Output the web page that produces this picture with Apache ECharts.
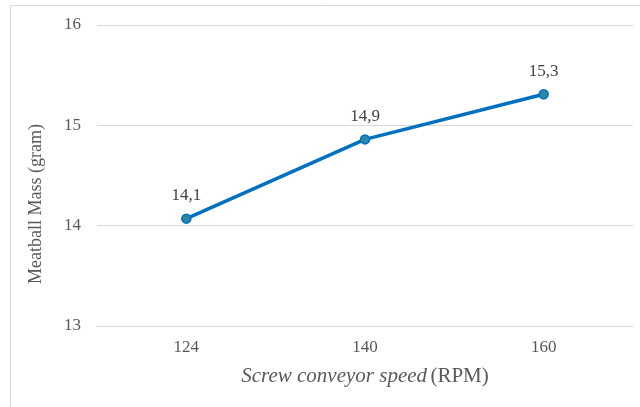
<!DOCTYPE html>
<html><head><meta charset="utf-8">
<script src="https://cdn.jsdelivr.net/npm/echarts@6/dist/echarts.min.js"></script>
<style>html,body{margin:0;padding:0;background:#fff}#c{width:640px;height:407px}</style>
</head><body><div id="c"></div>
<script>
const categories = ['124', '140', '160'];
const massValues = [14.07, 14.86, 15.31];
const yTicks = [13, 14, 15, 16];
const yTitle = 'Meatball Mass (gram)';

const chart = echarts.init(document.getElementById('c'));
const font = '"Liberation Serif", "Times New Roman", serif';
chart.setOption({
  animation: false,
  backgroundColor: '#fff',
  graphic: [{
    type: 'rect', shape: {x: 10.5, y: 5.5, width: 700, height: 500},
    style: {fill: 'none', stroke: '#d9d9d9', lineWidth: 1}, silent: true
  }, {
    type: 'text', x: 36, y: 204, rotation: Math.PI / 2,
    style: {text: yTitle, align: 'center', verticalAlign: 'middle',
      fill: '#595959', font: '18px ' + font}
  }],
  grid: {left: 97, right: 7, top: 25, bottom: 81},
  xAxis: {
    type: 'category', data: categories, boundaryGap: true,
    axisLine: {show: true, lineStyle: {color: '#d9d9d9', width: 1}},
    axisTick: {show: false},
    axisLabel: {color: '#595959', fontFamily: font, fontSize: 17, margin: 13},
    name: '{i|Screw conveyor speed} {n|(RPM)}',
    nameLocation: 'middle', nameGap: 40,
    nameTextStyle: {
      rich: {
        i: {fontFamily: font, fontSize: 21, fontStyle: 'italic', color: '#595959'},
        n: {fontFamily: font, fontSize: 21, color: '#595959'}
      }
    }
  },
  yAxis: {
    type: 'value', min: yTicks[0], max: yTicks[yTicks.length - 1], interval: 1,
    axisLine: {show: false}, axisTick: {show: false},
    splitLine: {lineStyle: {color: '#d9d9d9', width: 1}},
    axisLabel: {color: '#595959', fontFamily: font, fontSize: 17, margin: 16}
  },
  series: [{
    type: 'line', data: massValues,
    lineStyle: {color: '#0070C0', width: 3.5},
    symbol: 'circle', symbolSize: 9,
    itemStyle: {color: '#2E86A6', borderColor: '#0070C0', borderWidth: 1.5},
    label: {
      show: true, position: 'top', distance: 9,
      fontFamily: font, fontSize: 17, color: '#404040',
      formatter: p => (Math.round(p.value * 10) / 10).toFixed(1).replace('.', ',')
    }
  }]
});
</script></body></html>
